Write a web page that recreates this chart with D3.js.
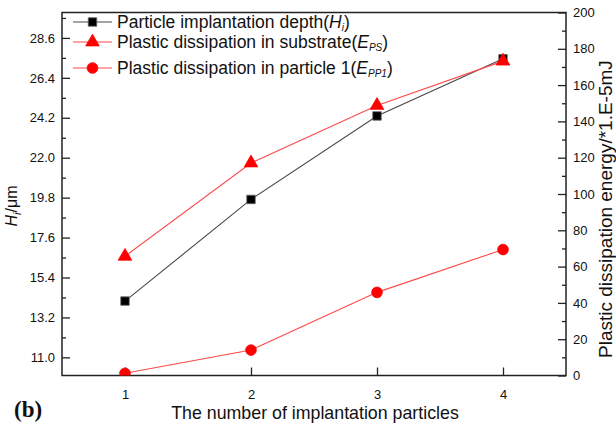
<!DOCTYPE html>
<html>
<head>
<meta charset="utf-8">
<script src="https://cdn.jsdelivr.net/npm/d3@7/dist/d3.min.js"></script>
<style>
  html, body { margin: 0; padding: 0; background: #fff; }
  svg { display: block; font-family: Arial, "Liberation Sans", sans-serif; }
</style>
</head>
<body>
<svg id="chart" width="616" height="423"></svg>
<script>
// Number of implanted particles
const particles = [1, 2, 3, 4];
// Particle implantation depth H_i (µm), left axis
const depth = [14.1, 19.7, 24.3, 27.45];
// Plastic dissipation in substrate E_PS (×1E-5 mJ), right axis
const substrateDissipation = [65.7, 117.1, 148.8, 173.2];
// Plastic dissipation in particle 1 E_PP1 (×1E-5 mJ), right axis
const particleDissipation = [1.2, 14.0, 45.8, 69.4];
// Tick values
const xTicks = [1, 2, 3, 4];
const leftTicks = [11.0, 13.2, 15.4, 17.6, 19.8, 22.0, 24.2, 26.4, 28.6];
const leftMinor = [12.1, 14.3, 16.5, 18.7, 20.9, 23.1, 25.3, 27.5, 29.7];
const rightTicks = [0, 20, 40, 60, 80, 100, 120, 140, 160, 180, 200];
const rightMinor = [10, 30, 50, 70, 90, 110, 130, 150, 170, 190];

const svg = d3.select("#chart");
const m = { left: 62, right: 566, top: 12.5, bottom: 375.5 };

const x = d3.scaleLinear().domain([0.5, 4.5]).range([m.left, m.right]);
const yL = d3.scaleLinear().domain([10, 30]).range([m.bottom, m.top]);
const yR = d3.scaleLinear().domain([0, 200]).range([m.bottom, m.top]);

svg.append("defs").append("clipPath").attr("id", "plotClip")
  .append("rect")
  .attr("x", m.left).attr("y", m.top)
  .attr("width", m.right - m.left).attr("height", m.bottom - m.top);

const axisColor = "#222";

// Bottom axis, ticks pointing inward
svg.append("g").attr("transform", `translate(0,${m.bottom})`)
  .call(d3.axisBottom(x).tickValues(xTicks).tickFormat(d3.format("d"))
    .tickSizeInner(-8).tickSizeOuter(0).tickPadding(14));
// Left axis: major + minor ticks
svg.append("g").attr("transform", `translate(${m.left},0)`)
  .call(d3.axisLeft(yL).tickValues(leftTicks).tickFormat(d3.format(".1f"))
    .tickSizeInner(-8).tickSizeOuter(0).tickPadding(7));
svg.append("g").attr("transform", `translate(${m.left},0)`)
  .call(d3.axisLeft(yL).tickValues(leftMinor)
    .tickFormat("").tickSizeInner(-4).tickSizeOuter(0));
// Right axis: major + minor ticks
svg.append("g").attr("transform", `translate(${m.right},0)`)
  .call(d3.axisRight(yR).tickValues(rightTicks).tickFormat(d3.format("d"))
    .tickSizeInner(-8).tickSizeOuter(0).tickPadding(7));
svg.append("g").attr("transform", `translate(${m.right},0)`)
  .call(d3.axisRight(yR).tickValues(rightMinor).tickFormat("")
    .tickSizeInner(-4).tickSizeOuter(0));

svg.selectAll(".domain").remove();
svg.selectAll(".tick line").attr("stroke", axisColor).attr("stroke-width", 1.3);
svg.selectAll(".tick text").attr("fill", "#111").style("font-size", "13px")
  .style("font-family", "Arial, 'Liberation Sans', sans-serif");

// Plot frame
svg.append("rect")
  .attr("x", m.left).attr("y", m.top)
  .attr("width", m.right - m.left).attr("height", m.bottom - m.top)
  .attr("fill", "none").attr("stroke", axisColor).attr("stroke-width", 1.5);

// Series
const series = [
  { name: "depth", values: depth, y: yL, line: "#484848", marker: "square", fill: "#000", stroke: "#666" },
  { name: "substrate", values: substrateDissipation, y: yR, line: "#ff4a4a", marker: "triangle", fill: "#ff0000", stroke: "#ff0000" },
  { name: "particle", values: particleDissipation, y: yR, line: "#ff4a4a", marker: "circle", fill: "#ff0000", stroke: "#ff0000" }
];

const symbolOf = {
  square: d3.symbol().type(d3.symbolSquare).size(72),
  triangle: d3.symbol().type(d3.symbolTriangle).size(80),
  circle: d3.symbol().type(d3.symbolCircle).size(90)
};

const plot = svg.append("g").attr("clip-path", "url(#plotClip)");
series.forEach(s => {
  const pts = particles.map((p, i) => [x(p), s.y(s.values[i])]);
  plot.append("path")
    .attr("d", d3.line()(pts))
    .attr("fill", "none").attr("stroke", s.line).attr("stroke-width", 1.1);
});
series.forEach(s => {
  plot.selectAll(null).data(particles).enter().append("path")
    .attr("d", symbolOf[s.marker])
    .attr("transform", (p, i) => `translate(${x(p)},${s.y(s.values[i])})`)
    .attr("fill", s.fill).attr("stroke", s.stroke).attr("stroke-width", 0.8);
});

// Legend
const legendRows = [
  { s: series[0], y: 22, label: "Particle implantation depth(", it: "H", sub: "i" },
  { s: series[1], y: 42, label: "Plastic dissipation in substrate(", it: "E", sub: "PS" },
  { s: series[2], y: 68, label: "Plastic dissipation in particle 1(", it: "E", sub: "PP1" }
];
const lg = svg.append("g");
legendRows.forEach(r => {
  lg.append("line").attr("x1", 73).attr("x2", 112).attr("y1", r.y).attr("y2", r.y)
    .attr("stroke", r.s.line).attr("stroke-width", 1.1);
  lg.append("path").attr("d", symbolOf[r.s.marker])
    .attr("transform", `translate(92.5,${r.y})`)
    .attr("fill", r.s.fill).attr("stroke", r.s.stroke).attr("stroke-width", 0.8);
  const t = lg.append("text").attr("x", 117).attr("y", r.y + 6)
    .style("font-size", "17.5px").attr("fill", "#111");
  t.append("tspan").text(r.label);
  t.append("tspan").style("font-style", "italic").text(r.it);
  t.append("tspan").attr("dy", 3).style("font-size", "10px").style("font-style", "italic").text(r.sub);
  t.append("tspan").attr("dy", -3).text(")");
});

// Axis titles
svg.append("text")
  .attr("x", 315).attr("y", 419)
  .attr("text-anchor", "middle").style("font-size", "17.8px").attr("fill", "#111")
  .text("The number of implantation particles");

const lt = svg.append("text")
  .attr("transform", "translate(17,206) rotate(-90)")
  .attr("text-anchor", "middle").style("font-size", "16px").attr("fill", "#111");
lt.append("tspan").style("font-style", "italic").text("H");
lt.append("tspan").attr("dy", 4).style("font-size", "11px").style("font-style", "italic").text("i");
lt.append("tspan").attr("dy", -4).text("/μm");

svg.append("text")
  .attr("transform", "translate(612,358) rotate(-90)")
  .attr("text-anchor", "start").style("font-size", "19px").attr("fill", "#111")
  .text("Plastic dissipation energy/*1.E-5mJ");

// Panel tag
svg.append("text")
  .attr("x", 14).attr("y", 417)
  .style("font-family", "'Liberation Serif', 'Times New Roman', serif")
  .style("font-size", "23px").style("font-weight", "bold").attr("fill", "#111")
  .text("(b)");
</script>
</body>
</html>
